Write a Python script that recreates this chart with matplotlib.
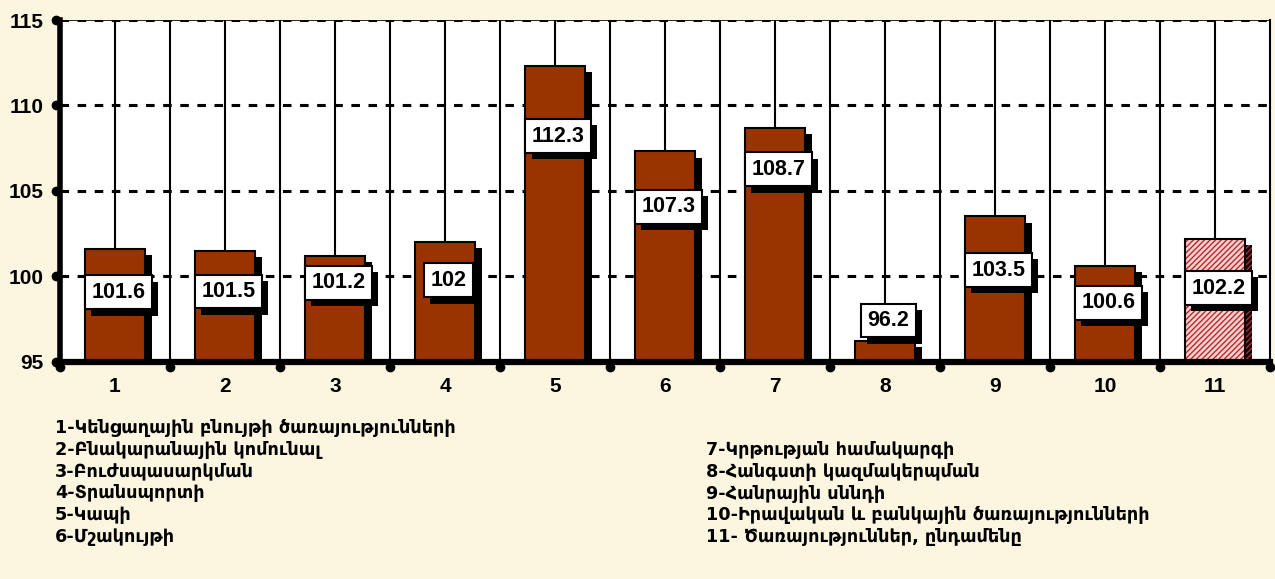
import numpy as np
import matplotlib.pyplot as plt
import matplotlib.patheffects as pe
from matplotlib.transforms import ScaledTranslation

# Data
categories = ['1', '2', '3', '4', '5', '6', '7', '8', '9', '10', '11']
values = [101.6, 101.5, 101.2, 102, 112.3, 107.3, 108.7, 96.2, 103.5, 100.6, 102.2]
y_ticks = [95, 100, 105, 110, 115]

legend_left = [
    '1-Կենցաղային բնույթի ծառայությունների',
    '2-Բնակարանային կոմունալ',
    '3-Բուժսպասարկման',
    '4-Տրանսպորտի',
    '5-Կապի',
    '6-Մշակույթի',
]
legend_right = [
    '7-Կրթության համակարգի',
    '8-Հանգստի կազմակերպման',
    '9-Հանրային սննդի',
    '10-Իրավական և բանկային ծառայությունների',
    '11- Ծառայություններ, ընդամենը',
]

# vertical placement of the value boxes (layout)
label_y = [99.05, 99.1, 99.6, 99.75, 108.2, 104.05, 106.25, 97.4, 100.35, 98.45, 99.3]

bg = '#fcf5df'
brown = '#993300'

fig = plt.figure(figsize=(12.75, 5.79), dpi=100, facecolor=bg)
ax = fig.add_axes([60 / 1275, 1 - 361.5 / 579, 1210 / 1275, 341.5 / 579])
ax.set_facecolor('white')

x = np.arange(len(categories))
ax.set_xlim(-0.5, len(categories) - 0.5)
ax.set_ylim(95, 115)

# dashed grid
for yv in y_ticks[1:]:
    ax.axhline(yv, color='black', lw=2.2, dashes=(2.8, 2.8), zorder=1)
ax.axhline(115, color='black', lw=1.2, zorder=1)

# category separators and centre lines
ax.vlines(np.arange(-0.5, len(categories) - 0.5), 95, 115, color='black', lw=1.5, zorder=1)
ax.vlines(x, values, 115, color='black', lw=1.5, zorder=1)

shadow = [pe.SimplePatchShadow(offset=(4.5, -4.5), shadow_rgbFace='black', alpha=1.0), pe.Normal()]

plt.rcParams['hatch.linewidth'] = 1.0
colors = [brown] * (len(values) - 1)
bars = ax.bar(x[:-1], values[:-1], width=0.55, color=colors, edgecolor='black', lw=1.5, zorder=2)
for b in bars:
    b.set_path_effects(shadow)

last = ax.bar(x[-1:], values[-1:], width=0.55, color='#f8d0d0', edgecolor='#b82a2a',
              hatch='//////', lw=0, zorder=2)
last[0].set_path_effects(shadow)
ax.bar(x[-1:], values[-1:], width=0.55, fill=False, edgecolor='black', lw=1.5, zorder=2.1)

# value boxes
for xi, v, ly in zip(x, values, label_y):
    t = ax.text(xi + 0.03, ly, f'{v:g}', ha='center', va='center', fontsize=15.5,
                fontweight='bold', family='Liberation Sans', zorder=4,
                bbox=dict(boxstyle='square,pad=0.3', fc='white', ec='black', lw=1.5))
    t.get_bbox_patch().set_path_effects(shadow)

# spines
ax.spines['top'].set_visible(False)
ax.spines['right'].set_linewidth(1.5)
ax.spines['left'].set_linewidth(4)
ax.spines['bottom'].set_linewidth(4.5)
ax.spines['left'].set_zorder(5)
ax.spines['bottom'].set_zorder(5)

ax.set_yticks(y_ticks)
ax.set_xticks(x)
ax.set_xticklabels(categories)
ax.tick_params(length=0)
ax.tick_params(axis='y', pad=12)
ax.tick_params(axis='x', pad=11)
for lab in ax.get_xticklabels() + ax.get_yticklabels():
    lab.set_fontsize(15)
    lab.set_fontweight('bold')
    lab.set_family('Liberation Sans')

# round tick dots
off_y = ax.transData + ScaledTranslation(-3 / 72, 0, fig.dpi_scale_trans)
ax.plot([-0.5] * len(y_ticks), y_ticks, 'o', color='black', ms=6, clip_on=False,
        transform=off_y, zorder=6)
off_x = ax.transData + ScaledTranslation(0, -4 / 72, fig.dpi_scale_trans)
bounds = np.arange(-0.5, len(categories) + 0.5)
ax.plot(bounds, [95] * len(bounds), 'o', color='black', ms=6, clip_on=False,
        transform=off_x, zorder=6)

# category legend
for i, line in enumerate(legend_left):
    fig.text(55 / 1275, 1 - (428 + i * 21.8) / 579, line, fontsize=12.7, fontweight='bold',
             family='DejaVu Sans', va='center', ha='left')
for i, line in enumerate(legend_right):
    fig.text(706 / 1275, 1 - (450 + i * 21.8) / 579, line, fontsize=12.7, fontweight='bold',
             family='DejaVu Sans', va='center', ha='left')

fig.savefig('out.png', dpi=100, facecolor=bg)
